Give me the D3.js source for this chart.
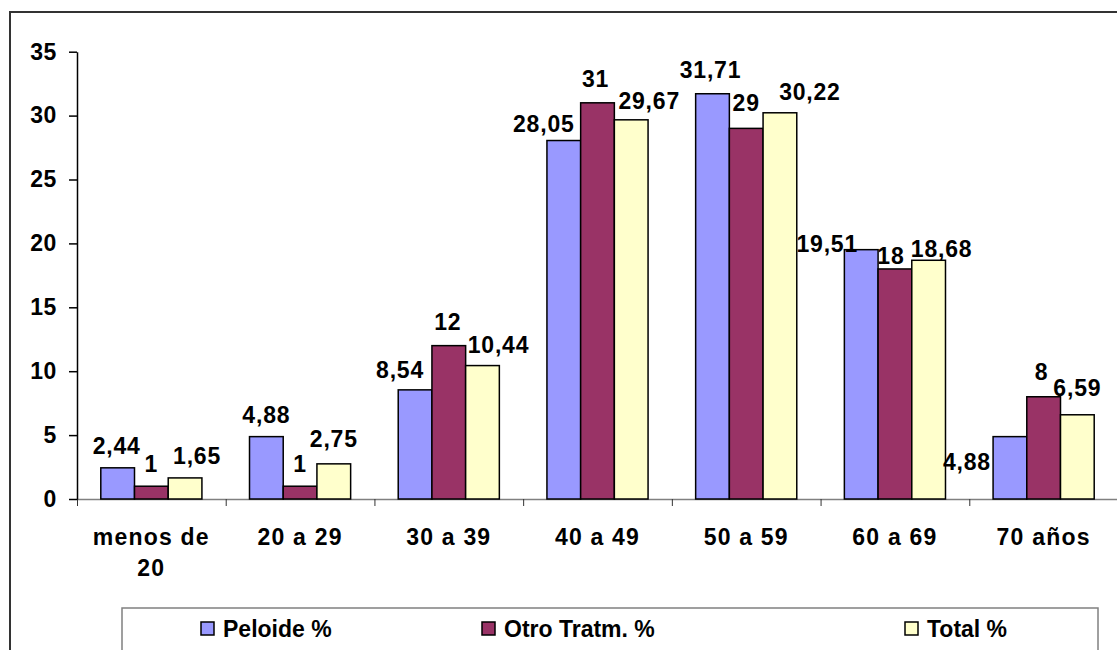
<!DOCTYPE html>
<html>
<head>
<meta charset="utf-8">
<script src="https://cdn.jsdelivr.net/npm/d3@7"></script>
<style>
  body { margin: 0; background: #fff; }
  text { font-family: Arial, "Liberation Sans", sans-serif; font-weight: bold; fill: #000; }
</style>
</head>
<body>
<svg id="chart" width="1117" height="650"></svg>
<script>
// Age groups
const categories = ["menos de 20", "20 a 29", "30 a 39", "40 a 49", "50 a 59", "60 a 69", "70 años"];
// Series
const seriesNames = ["Peloide %", "Otro Tratm. %", "Total %"];
const peloide   = [2.44, 4.88, 8.54, 28.05, 31.71, 19.51, 4.88];
const otroTratm = [1, 1, 12, 31, 29, 18, 8];
const total     = [1.65, 2.75, 10.44, 29.67, 30.22, 18.68, 6.59];
const yTicks = [0, 5, 10, 15, 20, 25, 30, 35];

// Styling / layout
const seriesColors = ["#9999FF", "#993366", "#FFFFCC"];
// hand-placed value label offsets [dx, dy] per age group and series
const labelNudge = [
  [[-1, 0], [0, 0], [12, 0]],
  [[0, 0], [0, 0], [0, -3]],
  [[-15, 2], [-1, -2], [16, 1]],
  [[-20, 5], [-2, -2], [18, 3]],
  [[-2, -2], [0, -3], [30, 1]],
  [[-34, 16], [-4, 9], [13, 11]],
  [[-43, 47], [-2, -3], [0, -5]]
];

const seriesValues = [peloide, otroTratm, total];
const svg = d3.select("#chart");
const W = 1117, H = 650;

svg.append("rect").attr("width", W).attr("height", H).attr("fill", "#fff");

// chart frame (top and left edges visible)
svg.append("path")
  .attr("d", `M10,${H} L10,12 L${W},12`)
  .attr("fill", "none").attr("stroke", "#333").attr("stroke-width", 2);

const plot = { left: 77, right: 1118, top: 51.7, bottom: 499 };

const y = d3.scaleLinear().domain([0, 35]).range([plot.bottom, plot.top]);
const x0 = d3.scaleBand().domain(categories).range([plot.left, plot.right]);
const bw = x0.bandwidth();
const x1 = d3.scaleBand().domain(d3.range(seriesNames.length)).range([bw * 0.16, bw * 0.84]);

// X axis: grey baseline with boundary ticks
const xEdges = d3.scaleLinear().domain([0, categories.length]).range([plot.left, plot.right]);
const xTickAxis = svg.append("g")
  .attr("transform", `translate(0,${plot.bottom})`)
  .call(d3.axisBottom(xEdges).tickValues(d3.range(categories.length + 1)).tickSize(7).tickSizeOuter(0).tickFormat(""));
xTickAxis.select(".domain").attr("stroke", "#808080").attr("stroke-width", 1.5);
xTickAxis.selectAll(".tick line").attr("stroke", "#333");

// category labels, wrapped onto two lines when wider than the band
const xLabels = svg.append("g").attr("transform", `translate(0,${plot.bottom})`)
  .call(d3.axisBottom(x0).tickSize(0).tickPadding(0));
xLabels.select(".domain").remove();
xLabels.selectAll(".tick text").each(function (d) {
  const t = d3.select(this);
  t.text(null).attr("y", 0).attr("dy", null)
    .style("font-size", "23px").style("letter-spacing", "1.2px")
    .attr("font-family", null);
  const probe = t.append("tspan").attr("x", 0).attr("y", 46).text(d);
  if (probe.node().getComputedTextLength() > bw - 14) {
    probe.remove();
    const words = d.split(" ");
    [words.slice(0, -1).join(" "), words[words.length - 1]].forEach((ln, i) => {
      t.append("tspan").attr("x", 0).attr("y", 46 + i * 31).text(ln);
    });
  }
});

// Y axis
const yAxis = svg.append("g")
  .attr("transform", `translate(${plot.left},0)`)
  .call(d3.axisLeft(y).tickValues(yTicks).tickSize(8).tickSizeOuter(0).tickPadding(12));
yAxis.select(".domain").attr("stroke", "#000").attr("stroke-width", 1.5);
yAxis.selectAll(".tick line").attr("stroke", "#000").attr("stroke-width", 1.5);
yAxis.selectAll(".tick text")
  .attr("font-family", null)
  .style("font-size", "23px").style("letter-spacing", "0.6px");

// bars
const groups = svg.append("g").selectAll("g")
  .data(categories).join("g")
  .attr("transform", d => `translate(${x0(d)},0)`);

groups.selectAll("rect")
  .data((c, i) => seriesValues.map((vals, s) => ({ s, v: vals[i] })))
  .join("rect")
  .attr("x", d => x1(d.s))
  .attr("width", x1.bandwidth())
  .attr("y", d => y(d.v))
  .attr("height", d => y(0) - y(d.v))
  .attr("fill", d => seriesColors[d.s])
  .attr("stroke", "#000").attr("stroke-width", 1.5);

// value labels
const fmt = v => String(v).replace(".", ",");
groups.selectAll("text.val")
  .data((c, i) => seriesValues.map((vals, s) => ({ s, v: vals[i], n: labelNudge[i][s] })))
  .join("text")
  .attr("class", "val")
  .attr("text-anchor", "middle")
  .attr("x", d => x1(d.s) + x1.bandwidth() / 2 + d.n[0])
  .attr("y", d => y(d.v) - 14 + d.n[1])
  .style("font-size", "23px").style("letter-spacing", "0.8px")
  .text(d => fmt(d.v));

// legend
const legend = svg.append("g");
legend.append("rect")
  .attr("x", 122).attr("y", 608).attr("width", 976).attr("height", 60)
  .attr("fill", "#fff").attr("stroke", "#808080").attr("stroke-width", 1.5);
const legendX = [201, 482, 905];
const items = legend.selectAll("g.item").data(seriesNames).join("g")
  .attr("transform", (d, i) => `translate(${legendX[i]},622)`);
items.append("rect")
  .attr("width", 13).attr("height", 13)
  .attr("fill", (d, i) => seriesColors[i])
  .attr("stroke", "#000").attr("stroke-width", 1.5);
items.append("text")
  .attr("x", 22).attr("y", 15)
  .style("font-size", "23px")
  .text(d => d);
</script>
</body>
</html>
